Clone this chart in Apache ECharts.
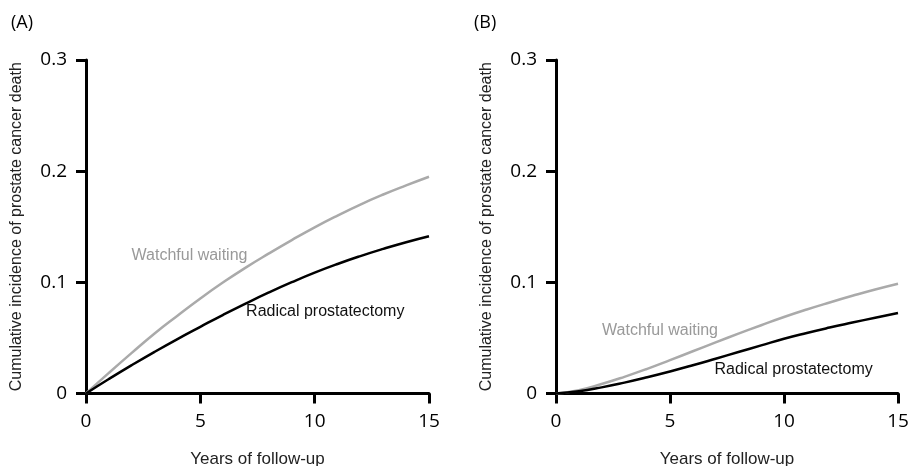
<!DOCTYPE html>
<html>
<head>
<meta charset="utf-8">
<script src="https://cdn.jsdelivr.net/npm/echarts@6/dist/echarts.min.js"></script>
<style>html,body{margin:0;padding:0;background:#fff}#c{width:909px;height:466px}</style>
</head>
<body>
<div id="c"></div>
<script>
// Data (years of follow-up 0..15)
var years = [0,1,2,3,4,5,6,7,8,9,10,11,12,13,14,15];
var panelA_watchful = [0,0.0185,0.0365,0.054,0.070,0.0855,0.100,0.1135,0.126,0.138,0.1495,0.1601,0.170,0.179,0.1872,0.195];
var panelA_radical  = [0,0.013,0.0255,0.0375,0.049,0.060,0.0708,0.0811,0.0909,0.1001,0.1087,0.1165,0.1236,0.1301,0.1361,0.1415];
var panelB_watchful = [0,0.003,0.0085,0.015,0.0222,0.030,0.038,0.046,0.0538,0.0614,0.0688,0.0756,0.0819,0.0879,0.0936,0.0988];
var panelB_radical  = [0,0.002,0.0055,0.0098,0.0146,0.0198,0.0254,0.0313,0.0373,0.0433,0.0493,0.0545,0.0593,0.0638,0.0682,0.0725];
var xTicks = [0,5,10,15];
var yTicks = [0,0.1,0.2,0.3];
var panelTitles = ['(A)','(B)'];
var seriesNames = ['Watchful waiting','Radical prostatectomy'];
// label anchors in data units [year, incidence]
var labelA_watchful = [1.97, 0.1245];
var labelA_radical  = [6.98, 0.0737];
var labelB_watchful = [2.0, 0.0562];
var labelB_radical  = [6.93, 0.0211];

function pairs(ys){ return years.map(function(x,i){ return [x, ys[i]]; }); }

var chart = echarts.init(document.getElementById('c'));
var axisCommonX = {
  type:'value', min:0, max:15, interval:5,
  axisLine:{show:true, onZero:false, lineStyle:{color:'#000', width:3}},
  axisTick:{show:true, length:10, lineStyle:{color:'#000', width:3}},
  splitLine:{show:false},
  axisLabel:{color:'#000', fontFamily:'Open Sans', fontSize:19, margin:19,
    formatter:function(v){ return xTicks.indexOf(v)>=0 ? String(v) : ''; }},
  name:'Years of follow-up', nameLocation:'middle', nameGap:57,
  nameTextStyle:{color:'#222', fontFamily:'Liberation Sans', fontSize:17}
};
var axisCommonY = {
  type:'value', min:0, max:0.3, interval:0.1,
  axisLine:{show:true, onZero:false, lineStyle:{color:'#000', width:3}},
  axisTick:{show:true, length:10, lineStyle:{color:'#000', width:3}},
  splitLine:{show:false},
  axisLabel:{color:'#000', fontFamily:'Open Sans', fontSize:19, margin:19,
    formatter:function(v){ var t = yTicks.filter(function(k){return Math.abs(k-v)<1e-9;}); return t.length? (v===0?'0':v.toFixed(1)) : ''; }},
  name:'Cumulative incidence of prostate cancer death', nameLocation:'middle', nameGap:61,
  nameTextStyle:{color:'#222', fontFamily:'Liberation Sans', fontSize:16}
};
function lbl(coord, text, color){
  return {
    symbol:'circle', symbolSize:1, silent:true, animation:false,
    itemStyle:{color:'rgba(0,0,0,0)'},
    data:[{coord:coord,
      label:{show:true, position:'right', distance:0, formatter:text, color:color,
        fontFamily:'Liberation Sans', fontSize:16}}]
  };
}
var option = {
  animation:false,
  backgroundColor:'#fff',
  grid:[
    {left:86, right:480, top:60, bottom:72.5, outerBoundsMode:'none', containLabel:false},
    {left:556, right:11, top:60, bottom:72.5, outerBoundsMode:'none', containLabel:false}
  ],
  xAxis:[
    Object.assign({gridIndex:0}, axisCommonX),
    Object.assign({gridIndex:1}, axisCommonX)
  ],
  yAxis:[
    Object.assign({gridIndex:0}, axisCommonY),
    Object.assign({gridIndex:1}, axisCommonY)
  ],
  graphic:[
    {type:'text', left:11, top:14, style:{text:panelTitles[0], fill:'#000', font:'18px "Open Sans"'}},
    {type:'text', left:474, top:14, style:{text:panelTitles[1], fill:'#000', font:'18px "Open Sans"'}}
  ],
  series:[
    {type:'line', name:seriesNames[0], xAxisIndex:0, yAxisIndex:0, data:pairs(panelA_watchful), smooth:0.5, showSymbol:false,
      lineStyle:{color:'#aaaaaa', width:2.5}, markPoint:lbl(labelA_watchful, seriesNames[0], '#999999')},
    {type:'line', name:seriesNames[1], xAxisIndex:0, yAxisIndex:0, data:pairs(panelA_radical), smooth:0.5, showSymbol:false,
      lineStyle:{color:'#000', width:2.5}, markPoint:lbl(labelA_radical, seriesNames[1], '#111111')},
    {type:'line', name:seriesNames[0], xAxisIndex:1, yAxisIndex:1, data:pairs(panelB_watchful), smooth:0.5, showSymbol:false,
      lineStyle:{color:'#aaaaaa', width:2.5}, markPoint:lbl(labelB_watchful, seriesNames[0], '#999999')},
    {type:'line', name:seriesNames[1], xAxisIndex:1, yAxisIndex:1, data:pairs(panelB_radical), smooth:0.5, showSymbol:false,
      lineStyle:{color:'#000', width:2.5}, markPoint:lbl(labelB_radical, seriesNames[1], '#111111')}
  ]
};
chart.setOption(option);
</script>
</body>
</html>
